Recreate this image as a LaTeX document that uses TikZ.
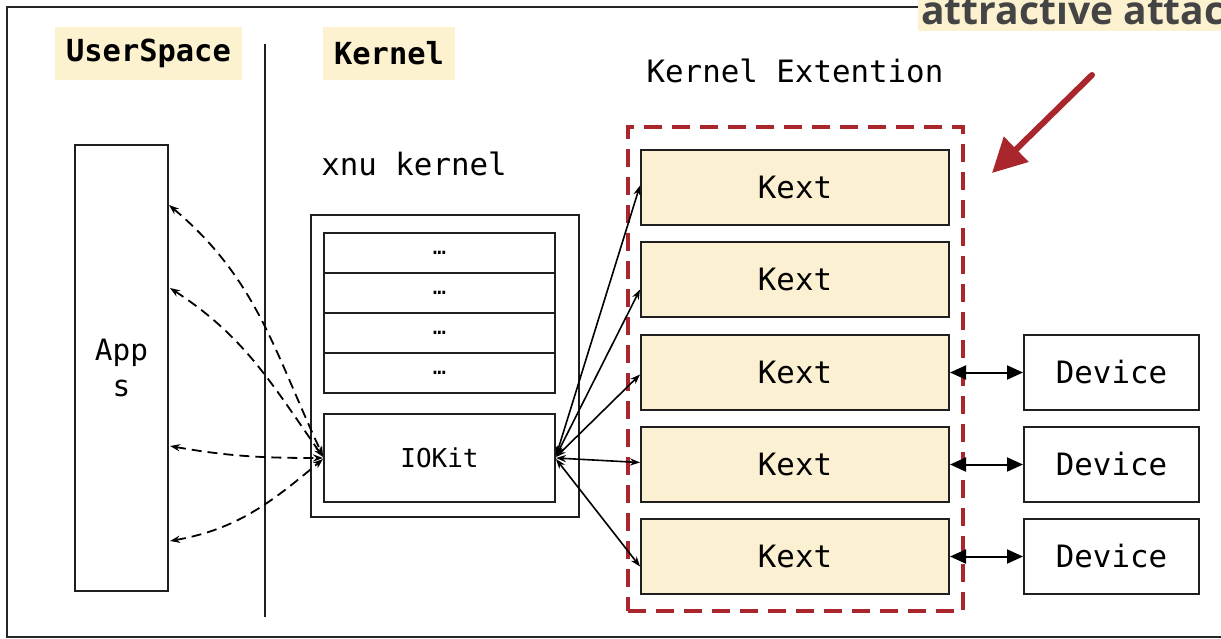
\documentclass[tikz,border=0pt]{standalone}
\usepackage{fontspec}
\setmonofont{DejaVu Sans Mono}
\newfontfamily\labfont{Open Sans}
\usetikzlibrary{arrows.meta}
\definecolor{kred}{HTML}{A8262C}
\definecolor{kyel}{HTML}{FCF0D2}
\definecolor{labbg}{HTML}{FDF2D0}
\definecolor{labtxt}{HTML}{444444}
\begin{document}
\begin{tikzpicture}[x=0.5pt,y=-0.5pt,
  mono/.style={font=\ttfamily\fontsize{15.4}{18}\selectfont},
  box/.style={draw=black!88, line width=1pt, inner sep=0pt, mono},
  kext/.style={box, fill=kyel, minimum width=154pt, minimum height=37.5pt},
  dev/.style={box, fill=white, minimum width=87.5pt, minimum height=37.5pt},
  row/.style={box, minimum width=115.5pt, minimum height=20pt, font=\ttfamily\fontsize{11}{12}\selectfont},
  sect/.style={fill=labbg, inner sep=0pt, font=\ttfamily\bfseries\fontsize{15.2}{18}\selectfont},
  solidarrow/.style={line width=0.8pt, {Stealth[length=5pt,width=3.6pt]}-{Stealth[length=5pt,width=3.6pt]}},
  devarrow/.style={line width=1pt, {Triangle[length=8pt,width=7pt]}-{Triangle[length=8pt,width=7pt]}},
  dasharrow/.style={line width=0.9pt, dash pattern=on 5pt off 3pt, {Stealth[length=5pt,width=3.6pt]}-{Stealth[length=5pt,width=3.6pt]}},
  redarrow/.style={draw=kred, line width=3pt, line cap=round, -{Triangle[length=17pt,width=17pt]}}
]
\useasboundingbox (0,0) rectangle (1221,638);
\clip (0,0) rectangle (1221,638);
\fill[white] (0,0) rectangle (1221,638);

% outer frame
\node[draw=black!85, line width=1pt, inner sep=0pt, minimum width=612pt, minimum height=315pt, anchor=north west] (frame) at (6,6) {};

% label (cropped)
\node[fill=labbg, inner sep=0pt, anchor=north west, minimum width=160pt, minimum height=21pt] (labbox) at (918,-11) {};
\node[font=\labfont\bfseries\fontsize{19.5}{22}\selectfont, text=labtxt, anchor=base west, inner sep=0pt] (labtext) at (921,24) {attractive attac};

% section labels
\node[sect, minimum width=93.5pt, minimum height=26.5pt] (us) at (148.5,53.5) {UserSpace};
\node[sect, minimum width=66pt, minimum height=26.5pt] (kl) at (389,53.5) {Kernel};

% separator
\coordinate (sepT) at (265,44);
\coordinate (sepB) at (265,617);
\draw[line width=1pt, black!88] (sepT) -- (sepB);

% Apps
\node[box, minimum width=46.5pt, minimum height=223pt, align=center, font=\ttfamily\fontsize{14.7}{18}\selectfont] (apps) at (121.5,368) {App\\s};

% xnu kernel
\node[mono] (xnulab) at (414,164) {xnu kernel};
\node[box, minimum width=134pt, minimum height=151pt] (xnu) at (445,366) {};
\node[row] (r1) at (439.5,253) {…};
\node[row] (r2) at (439.5,293) {…};
\node[row] (r3) at (439.5,333) {…};
\node[row] (r4) at (439.5,373) {…};
\node[box, minimum width=115.5pt, minimum height=44pt, font=\ttfamily\fontsize{13}{15}\selectfont] (iokit) at (439.5,458) {IOKit};

% kernel extension
\node[mono] (kelab) at (795,71) {Kernel Extention};
\node[draw=kred, line width=1.7pt, dash pattern=on 9pt off 5pt, minimum width=167.5pt, minimum height=242pt, inner sep=0pt] (kgroup) at (795.5,369) {};
\node[kext] (k1) at (795,187.5) {Kext};
\node[kext] (k2) at (795,279.5) {Kext};
\node[kext] (k3) at (795,372.5) {Kext};
\node[kext] (k4) at (795,464.5) {Kext};
\node[kext] (k5) at (795,556.5) {Kext};

% devices
\node[dev] (d1) at (1111.5,372.5) {Device};
\node[dev] (d2) at (1111.5,464.5) {Device};
\node[dev] (d3) at (1111.5,556.5) {Device};

\draw[devarrow] (k3.east) -- (d1.west);
\draw[devarrow] (k4.east) -- (d2.west);
\draw[devarrow] (k5.east) -- (d3.west);

% IOKit <-> Kext
\draw[solidarrow] ([yshift=1pt]iokit.east) -- ([yshift=1pt]k1.west);
\draw[solidarrow] ([yshift=1pt]iokit.east) -- ([yshift=-5pt]k2.west);
\draw[solidarrow] ([yshift=0.5pt]iokit.east) -- ([yshift=-1pt]k3.west);
\draw[solidarrow] (iokit.east) -- ([yshift=1pt]k4.west);
\draw[solidarrow] ([yshift=-0.5pt]iokit.east) -- ([yshift=-5pt]k5.west);

% Apps <-> IOKit (dashed)
\coordinate (a1) at (169,205);
\coordinate (a2) at (170,288);
\coordinate (a3) at (170,446);
\coordinate (a4) at (170,541);
\draw[dasharrow] (a1) to[out=-40, in=115] ([yshift=1pt]iokit.west);
\draw[dasharrow] (a2) to[out=-33, in=125] ([yshift=0.5pt]iokit.west);
\draw[dasharrow] (a3) to[out=-10, in=180] (iokit.west);
\draw[dasharrow] (a4) to[out=10, in=-140] ([yshift=-0.5pt]iokit.west);

% red pointer
\coordinate (rs) at (1092,75);
\coordinate (re) at (992,173);
\draw[redarrow] (rs) -- (re);
\end{tikzpicture}
\end{document}
